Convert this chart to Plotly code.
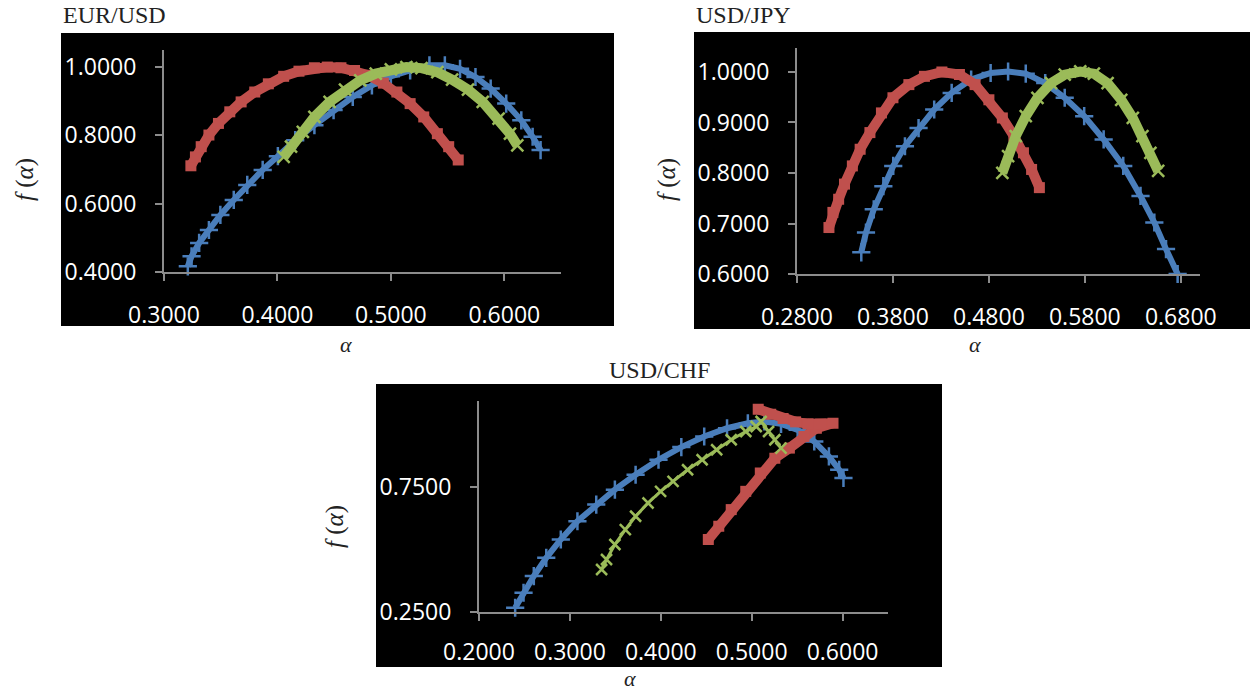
import plotly.graph_objects as go

# ---------------- data ----------------
# EUR/USD
eur_blue_x = [0.321, 0.3243, 0.331, 0.3396, 0.3497, 0.3615, 0.3734, 0.387, 0.4004, 0.4157, 0.4326, 0.4495,
              0.4664, 0.4833, 0.500, 0.517, 0.534, 0.5476, 0.561, 0.5746, 0.588, 0.6017, 0.615, 0.625, 0.632]
eur_blue_y = [0.4165, 0.446, 0.485, 0.523, 0.567, 0.611, 0.655, 0.699, 0.739, 0.786, 0.830, 0.874,
              0.9125, 0.9465, 0.973, 0.990, 1.005, 1.005, 0.995, 0.971, 0.937, 0.893, 0.844, 0.796, 0.757]
eur_red_x = [0.3237, 0.3277, 0.3328, 0.3396, 0.348, 0.358, 0.368, 0.380, 0.392, 0.4055, 0.419, 0.4326,
             0.444, 0.456, 0.468, 0.480, 0.4934, 0.5053, 0.517, 0.529, 0.541, 0.551, 0.5594]
eur_red_y = [0.711, 0.737, 0.767, 0.801, 0.835, 0.869, 0.898, 0.927, 0.951, 0.973, 0.988, 0.998,
             1.000, 0.998, 0.990, 0.976, 0.953, 0.927, 0.893, 0.854, 0.805, 0.767, 0.728]
eur_green_x = [0.4055, 0.412, 0.4224, 0.4326, 0.446, 0.4596, 0.473, 0.4867, 0.500, 0.5137, 0.527, 0.541,
               0.554, 0.568, 0.581, 0.595, 0.605, 0.6115]
eur_green_y = [0.737, 0.767, 0.810, 0.854, 0.898, 0.934, 0.961, 0.981, 0.993, 1.000, 0.997, 0.985,
               0.963, 0.934, 0.898, 0.849, 0.805, 0.771]

# USD/JPY
jpy_blue_x = [0.347, 0.3519, 0.360, 0.370, 0.3803, 0.3925, 0.4067, 0.423, 0.4412, 0.4615, 0.4818, 0.500,
              0.5184, 0.5387, 0.559, 0.5793, 0.5996, 0.620, 0.638, 0.6524, 0.6646, 0.6767]
jpy_blue_y = [0.643, 0.682, 0.728, 0.774, 0.814, 0.853, 0.889, 0.9257, 0.9586, 0.985, 0.998, 1.001,
              0.9967, 0.978, 0.949, 0.9125, 0.8664, 0.814, 0.7546, 0.702, 0.6493, 0.600]
jpy_red_x = [0.3133, 0.3174, 0.3234, 0.3295, 0.3377, 0.3458, 0.356, 0.368, 0.380, 0.3966, 0.4128, 0.431,
             0.4493, 0.4656, 0.480, 0.494, 0.506, 0.516, 0.5245, 0.5326]
jpy_red_y = [0.692, 0.722, 0.748, 0.778, 0.814, 0.847, 0.880, 0.919, 0.949, 0.975, 0.9914, 1.000,
             0.995, 0.975, 0.945, 0.909, 0.873, 0.840, 0.807, 0.771]
jpy_green_x = [0.494, 0.500, 0.508, 0.5184, 0.5306, 0.5448, 0.559, 0.5752, 0.5894, 0.6037, 0.6179, 0.630,
               0.640, 0.6483, 0.6564]
jpy_green_y = [0.800, 0.8336, 0.873, 0.9125, 0.9487, 0.978, 0.9947, 1.001, 0.9967, 0.978, 0.945, 0.909,
               0.873, 0.840, 0.804]

# USD/CHF
chf_blue_x = [0.2398, 0.249, 0.2603, 0.274, 0.290, 0.3083, 0.329, 0.3495, 0.3723, 0.3975, 0.4226, 0.4478,
              0.4729, 0.4958, 0.514, 0.5323, 0.5506, 0.5689, 0.585, 0.5963, 0.601]
chf_blue_y = [0.267, 0.327, 0.3936, 0.4668, 0.540, 0.613, 0.6795, 0.7394, 0.799, 0.859, 0.9096, 0.952,
              0.985, 1.005, 1.012, 1.0027, 0.9787, 0.932, 0.8723, 0.819, 0.786]
chf_red_x = [0.4523, 0.4638, 0.4775, 0.4935, 0.5095, 0.5255, 0.5415, 0.5575, 0.5712, 0.5895,
             0.5758, 0.562, 0.5483, 0.5346, 0.521, 0.5072]
chf_red_y = [0.540, 0.593, 0.6596, 0.7327, 0.806, 0.865, 0.9056, 0.952, 0.985, 1.005,
             1.0013, 1.0027, 1.0106, 1.024, 1.041, 1.061]
chf_green_x = [0.3349, 0.3403, 0.3495, 0.361, 0.3723, 0.386, 0.3998, 0.4135, 0.4295, 0.4455, 0.4615, 0.4775,
               0.4935, 0.505, 0.5104, 0.5186, 0.5255, 0.5323]
chf_green_y = [0.420, 0.460, 0.520, 0.5798, 0.633, 0.686, 0.7327, 0.7726, 0.819, 0.859, 0.899, 0.939,
               0.972, 0.992, 1.012, 0.972, 0.939, 0.9056]

# ticks
eur_xticks = [0.3, 0.4, 0.5, 0.6]
eur_yticks = [0.4, 0.6, 0.8, 1.0]
jpy_xticks = [0.28, 0.38, 0.48, 0.58, 0.68]
jpy_yticks = [0.6, 0.7, 0.8, 0.9, 1.0]
chf_xticks = [0.2, 0.3, 0.4, 0.5, 0.6]
chf_yticks = [0.25, 0.75]

titles = ["EUR/USD", "USD/JPY", "USD/CHF"]

# ---------------- style ----------------
W, H = 1250, 692
BLUE, RED, GREEN = "#4A7EBB", "#C0504D", "#9BBB59"
AXC = "#8C8C8C"
TICKFONT = dict(family="Open Sans", size=23, color="white")
SERIF = "Liberation Serif"


def fx(px):
    return px / W


def fy(py):
    return 1 - py / H


fig = go.Figure()

panels = [
    dict(ax="", box=(164, 561, 50, 272), bg=(61, 614, 33, 326), xr=[0.3, 0.65], yr=[0.4, 1.05],
         xt=eur_xticks, yt=eur_yticks, xstand=14,
         data=[(eur_blue_x, eur_blue_y), (eur_red_x, eur_red_y), (eur_green_x, eur_green_y)],
         title=(61, 15, "left"), ylab=(25, 180), xlab=(346, 344), xlab_anchor="middle", gthin=False),
    dict(ax="2", box=(797, 1200, 48, 274), bg=(694, 1250, 32, 329), xr=[0.28, 0.70], yr=[0.6, 1.0475],
         xt=jpy_xticks, yt=jpy_yticks, xstand=14,
         data=[(jpy_blue_x, jpy_blue_y), (jpy_red_x, jpy_red_y), (jpy_green_x, jpy_green_y)],
         title=(694, 15, "left"), ylab=(667, 180), xlab=(975, 344), xlab_anchor="middle", gthin=False),
    dict(ax="3", box=(479, 888, 401, 612), bg=(376, 942, 384, 667), xr=[0.2, 0.65], yr=[0.25, 1.094],
         xt=chf_xticks, yt=chf_yticks, xstand=11,
         data=[(chf_blue_x, chf_blue_y), (chf_red_x, chf_red_y), (chf_green_x, chf_green_y)],
         title=(659, 370, "center"), ylab=(335, 527), xlab=(630, 692), xlab_anchor="bottom", gthin=True),
]

shapes = []
annotations = []
for i, p in enumerate(panels):
    xa, ya = "x" + p["ax"], "y" + p["ax"]
    (bx, by), (rx, ry), (gxx, gyy) = p["data"]
    fig.add_trace(go.Scatter(x=bx, y=by, xaxis=xa, yaxis=ya, mode="lines+markers",
                             line=dict(color=BLUE, width=6),
                             marker=dict(symbol="cross-thin", size=13, color=BLUE,
                                         line=dict(color=BLUE, width=2.5)),
                             showlegend=False, cliponaxis=False))
    fig.add_trace(go.Scatter(x=rx, y=ry, xaxis=xa, yaxis=ya, mode="lines+markers",
                             line=dict(color=RED, width=10),
                             marker=dict(symbol="square", size=11, color=RED),
                             showlegend=False, cliponaxis=False))
    if p["gthin"]:
        gl = dict(color=GREEN, width=3)
        gm = dict(symbol="x-thin", size=11, color=GREEN, line=dict(color=GREEN, width=2.5))
    else:
        gl = dict(color=GREEN, width=10)
        gm = dict(symbol="x-thin", size=12, color=GREEN, line=dict(color=GREEN, width=2.5))
    fig.add_trace(go.Scatter(x=gxx, y=gyy, xaxis=xa, yaxis=ya, mode="lines+markers",
                             line=gl, marker=gm, showlegend=False, cliponaxis=False))

    x0, x1, y0, y1 = p["box"]
    axis_common = dict(showgrid=False, zeroline=False, showline=True, linecolor=AXC, linewidth=2,
                       ticks="outside", ticklen=7, tickwidth=2, tickcolor=AXC, automargin=False,
                       tickfont=TICKFONT, tickformat=".4f")
    xkey = "xaxis" + p["ax"]
    ykey = "yaxis" + p["ax"]
    fig.update_layout({
        xkey: dict(domain=[fx(x0), fx(x1)], range=p["xr"], tickvals=p["xt"], anchor=ya,
                   ticklabelstandoff=p["xstand"], **axis_common),
        ykey: dict(domain=[fy(y1), fy(y0)], range=p["yr"], tickvals=p["yt"], anchor=xa,
                   ticklabelstandoff=14, **axis_common),
    })
    b = p["bg"]
    shapes.append(dict(type="rect", xref="paper", yref="paper", x0=fx(b[0]), x1=fx(b[1]),
                       y0=fy(b[3]), y1=fy(b[2]), fillcolor="black", line=dict(width=0),
                       layer="below"))
    tx, ty, al = p["title"]
    annotations.append(dict(text=titles[i], xref="paper", yref="paper", x=fx(tx), y=fy(ty),
                            xanchor=al, yanchor="middle", showarrow=False,
                            font=dict(family=SERIF, size=24, color="#222222")))
    lx, ly = p["ylab"]
    annotations.append(dict(text="<i>f</i> (<i>α</i>)", xref="paper", yref="paper", x=fx(lx), y=fy(ly),
                            xanchor="center", yanchor="middle", textangle=-90, showarrow=False,
                            font=dict(family=SERIF, size=25, color="#222222")))
    ax_, ay_ = p["xlab"]
    annotations.append(dict(text="<i>α</i>", xref="paper", yref="paper", x=fx(ax_), y=fy(ay_),
                            xanchor="center", yanchor=p["xlab_anchor"], showarrow=False, borderpad=0,
                            font=dict(family=SERIF, size=22, color="#222222")))

fig.update_layout(width=W, height=H, margin=dict(l=0, r=0, t=0, b=0, pad=0),
                  paper_bgcolor="white", plot_bgcolor="rgba(0,0,0,0)",
                  shapes=shapes, annotations=annotations, showlegend=False)

fig.write_html("out.html", config={"displayModeBar": False},
               post_script="document.body.style.margin='0';document.body.style.overflow='hidden';")
